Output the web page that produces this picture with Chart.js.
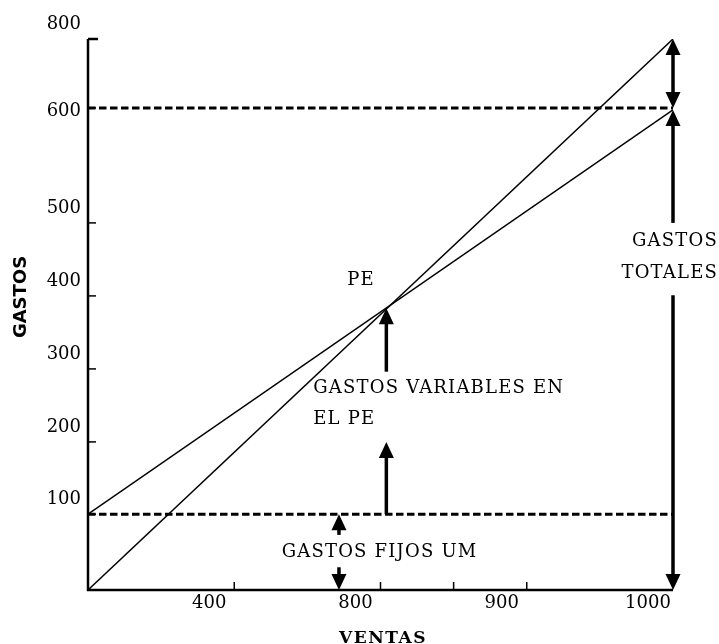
<!DOCTYPE html>
<html><head><meta charset="utf-8">
<script src="https://cdn.jsdelivr.net/npm/chart.js@4.4.0/dist/chart.umd.min.js"></script>
<style>html,body{margin:0;padding:0;background:#fff;} canvas{display:block;}</style>
</head><body>
<canvas id="c" width="719" height="644"></canvas>
<script>
// ---- data (values in the diagram's own axis units) ----
const salesRange     = [0, 1000];
const incomeLine     = [0, 800];
const totalCostLine  = [110, 697];
const fixedCostLevel = [110, 110];
const totalCostLevel = [700, 700];

const xMarkValues  = [250, 500, 625, 750];
const xLabelValues = [250, 500, 750, 1000];
const xLabelTexts  = ['400', '800', '900', '1000'];
const yTickValues  = [110, 215, 321, 427, 533, 700, 800];
const yTickLabels  = ['100', '200', '300', '400', '500', '600', '800'];

// arrows: x, from, to, head at from, head at to
const arrowX     = [1000, 1000, 1000, 510, 510, 429, 429];
const arrowFrom  = [700, 697, 428, 409, 215, 110, 33];
const arrowTo    = [800, 533, 0, 317, 110, 80, 0];
const arrowHeadFrom = [true, true, false, true, true, true, false];
const arrowHeadTo   = [true, false, true, false, false, false, true];

// text notes
const noteTexts = ['PE', 'GASTOS VARIABLES EN', 'EL PE', 'GASTOS FIJOS UM', 'GASTOS', 'TOTALES'];
const noteX     = [443, 385, 385, 331, 1077, 1077];
const noteY     = [443, 286, 241, 48, 499.5, 453];
const noteAlign = ['left', 'left', 'left', 'left', 'right', 'right'];

const xTitle = 'VENTAS';
const yTitle = 'GASTOS';

function pts(ys) { return salesRange.map((x, i) => ({x: x, y: ys[i]})); }

const SERIF = '"DejaVu Serif", serif';

const diagramPlugin = {
  id: 'diagram',
  afterDatasetsDraw(chart) {
    const ctx = chart.ctx;
    const xs = chart.scales.x, ys = chart.scales.y;
    const X = v => xs.getPixelForValue(v), Y = v => ys.getPixelForValue(v);
    ctx.save();
    ctx.fillStyle = '#000';
    ctx.strokeStyle = '#000';
    // axes
    ctx.lineWidth = 2.5;
    ctx.beginPath();
    ctx.moveTo(X(0), Y(800));
    ctx.lineTo(X(0), Y(0) + 1.2);
    ctx.moveTo(X(0) - 1.2, Y(0));
    ctx.lineTo(X(1000), Y(0));
    ctx.stroke();
    // y ticks (inside)
    yTickValues.forEach((v, i) => {
      const len = (v === 800) ? 10 : 8;
      ctx.lineWidth = (v === 800) ? 2.5 : 1.5;
      ctx.beginPath();
      ctx.moveTo(X(0), Y(v));
      ctx.lineTo(X(0) + len, Y(v));
      ctx.stroke();
    });
    // x ticks (inside)
    ctx.lineWidth = 1.5;
    xMarkValues.forEach(v => {
      ctx.beginPath();
      ctx.moveTo(X(v), Y(0));
      ctx.lineTo(X(v), Y(0) - 8);
      ctx.stroke();
    });
    // tick labels
    ctx.font = '18px ' + SERIF;
    ctx.textBaseline = 'alphabetic';
    ctx.textAlign = 'right';
    yTickLabels.forEach((t, i) => {
      const py = Y(yTickValues[i]);
      const base = (t === '600') ? py + 8 : py - 10;
      ctx.fillText(t, X(0) - 7, base);
    });
    ctx.textAlign = 'center';
    xLabelTexts.forEach((t, i) => {
      ctx.fillText(t, X(xLabelValues[i]) - 25, Y(0) + 18);
    });
    // arrows
    const HL = 16, HW = 7.5;
    arrowX.forEach((xv, i) => {
      const px = X(xv);
      let a = Y(arrowFrom[i]), b = Y(arrowTo[i]);
      let sa = a, sb = b;
      const dA = Math.sign(a - b), dB = Math.sign(b - a);
      if (arrowHeadFrom[i]) sa = a - dA * (HL - 2);
      if (arrowHeadTo[i]) sb = b - dB * (HL - 2);
      ctx.lineWidth = 3.5;
      ctx.beginPath();
      ctx.moveTo(px, sa); ctx.lineTo(px, sb);
      ctx.stroke();
      const head = (tip, d) => {
        ctx.beginPath();
        ctx.moveTo(px, tip);
        ctx.lineTo(px - HW, tip - d * HL);
        ctx.lineTo(px + HW, tip - d * HL);
        ctx.closePath();
        ctx.fill();
      };
      if (arrowHeadFrom[i]) head(a, dA);
      if (arrowHeadTo[i]) head(b, dB);
    });
    // notes
    ctx.font = '18px ' + SERIF;
    if ('letterSpacing' in ctx) ctx.letterSpacing = '1.2px';
    noteTexts.forEach((t, i) => {
      ctx.textAlign = noteAlign[i];
      ctx.fillText(t, X(noteX[i]), Y(noteY[i]));
    });
    // axis titles
    if ('letterSpacing' in ctx) ctx.letterSpacing = '1.5px';
    ctx.font = 'bold 17px ' + SERIF;
    ctx.textAlign = 'center';
    ctx.fillText(xTitle, 383, 644 - 1);
    ctx.restore();
    ctx.save();
    if ('letterSpacing' in ctx) ctx.letterSpacing = '0px';
    ctx.font = 'bold 18px "DejaVu Sans", sans-serif';
    ctx.translate(26, 297);
    ctx.rotate(-Math.PI / 2);
    ctx.textAlign = 'center';
    ctx.textBaseline = 'alphabetic';
    ctx.fillText(yTitle, 0, 0);
    ctx.restore();
  }
};

const lineStyle = {borderColor: '#000', pointRadius: 0, fill: false, tension: 0, showLine: true};

new Chart(document.getElementById('c'), {
  type: 'scatter',
  data: {
    datasets: [
      Object.assign({label: 'Ventas', data: pts(incomeLine), borderWidth: 1.5}, lineStyle),
      Object.assign({label: 'Gastos totales', data: pts(totalCostLine), borderWidth: 1.5}, lineStyle),
      Object.assign({label: 'Gastos fijos', data: pts(fixedCostLevel), borderWidth: 3, borderDash: [7.5, 3.5]}, lineStyle),
      Object.assign({label: 'Nivel 600', data: pts(totalCostLevel), borderWidth: 3, borderDash: [7.5, 3.5]}, lineStyle)
    ]
  },
  options: {
    responsive: false,
    devicePixelRatio: 1,
    animation: false,
    layout: {padding: {left: 88, right: 46, top: 39, bottom: 54}},
    plugins: {legend: {display: false}, tooltip: {enabled: false}},
    scales: {
      x: {type: 'linear', min: 0, max: 1000, display: false},
      y: {type: 'linear', min: 0, max: 800, display: false}
    }
  },
  plugins: [diagramPlugin]
});
</script>
</body></html>
